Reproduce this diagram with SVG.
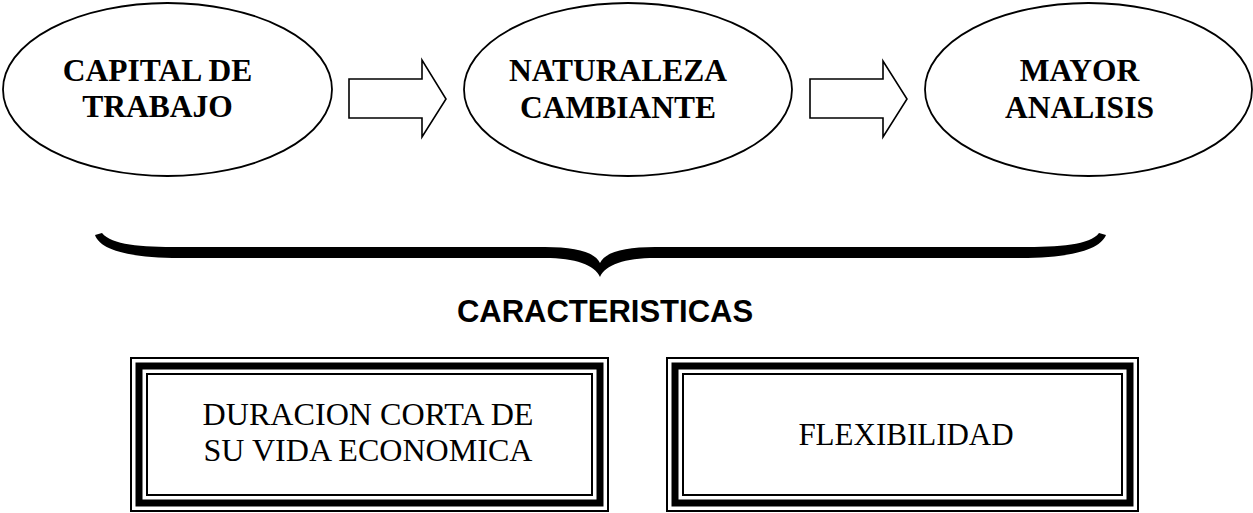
<svg xmlns="http://www.w3.org/2000/svg" width="1253" height="513" viewBox="0 0 1253 513">
<style>
.ell{fill:#fff;stroke:#000;stroke-width:1.8}
.arr{fill:#fff;stroke:#000;stroke-width:1.6;stroke-linejoin:miter}
.bt{font-family:"Liberation Serif","Times New Roman",serif;font-weight:bold;font-size:31.5px;fill:#000;text-anchor:middle}
.rt{font-family:"Liberation Serif","Times New Roman",serif;font-size:31px;fill:#000;text-anchor:middle}
.st{font-family:"Liberation Sans",Arial,sans-serif;font-weight:bold;font-size:31px;fill:#000;text-anchor:middle}
.thin{fill:none;stroke:#000;stroke-width:2}
.thick{fill:none;stroke:#000;stroke-width:7}
</style>
<rect width="1253" height="513" fill="#fff"/>
<g id="capital">
<ellipse class="ell" cx="167.5" cy="89.5" rx="164.5" ry="86.5"/>
<text class="bt" x="157.5" y="81">CAPITAL DE</text>
<text class="bt" x="157.5" y="117">TRABAJO</text>
</g>
<g id="naturaleza">
<ellipse class="ell" cx="628" cy="89.5" rx="164" ry="86.5"/>
<text class="bt" x="618" y="81">NATURALEZA</text>
<text class="bt" x="618" y="118">CAMBIANTE</text>
</g>
<g id="mayor">
<ellipse class="ell" cx="1088.5" cy="89.5" rx="163.5" ry="86.5"/>
<text class="bt" x="1079.5" y="81">MAYOR</text>
<text class="bt" x="1079.5" y="118">ANALISIS</text>
</g>
<g id="connectors">
<polygon class="arr" points="349,79 422,79 422,60 446,99 422,137 422,118 349,118"/>
<polygon class="arr" points="810,79 883,79 883,61 907,99 883,137 883,118 810,118"/>
<path fill="#000" d="M95,235 C100,250 130,258 180,258 L545,258 C575,258 595,265 600,277 C605,265 625,258 655,258 L1020,258 C1070,258 1100,250 1106,235 L1099,233 C1090,245 1060,247 1020,247 L655,247 C625,247 605,252 600,263 C595,252 575,247 545,247 L180,247 C140,247 112,245 102,233 Z"/>
</g>
<g id="caracteristicas">
<text class="st" x="605" y="322">CARACTERISTICAS</text>
</g>
<g id="duracion">
<rect class="thin" x="131" y="358" width="477" height="153"/>
<rect class="thick" x="139" y="366" width="461" height="137"/>
<rect class="thin" x="147" y="374" width="445" height="121"/>
<text class="rt" x="368" y="425" textLength="331" lengthAdjust="spacingAndGlyphs">DURACION CORTA DE</text>
<text class="rt" x="368" y="460.5" textLength="329" lengthAdjust="spacingAndGlyphs">SU VIDA ECONOMICA</text>
</g>
<g id="flexibilidad">
<rect class="thin" x="667" y="358" width="471" height="153"/>
<rect class="thick" x="675" y="366" width="455" height="137"/>
<rect class="thin" x="683" y="374" width="439" height="121"/>
<text class="rt" x="906" y="445">FLEXIBILIDAD</text>
</g>
</svg>
